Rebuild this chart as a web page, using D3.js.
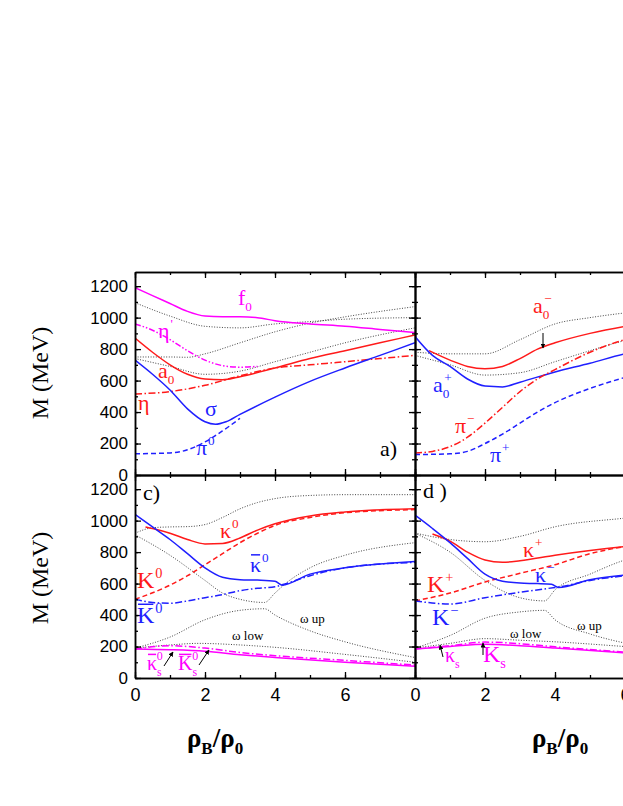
<!DOCTYPE html>
<html><head><meta charset="utf-8">
<script src="https://cdn.jsdelivr.net/npm/d3@7"></script>
<style>body{margin:0;background:#fff}svg{font-family:"Liberation Serif",serif}</style>
</head><body><svg id="svg" width="623" height="806"></svg>
<script>
'use strict';

// panel a
var f0 = [[0,1190],[0.5,1140],[1,1090],[1.5,1040],[2,1010],[2.5,1005],[3,1005],[3.5,1000],[4,980],[5,960],[6,945],[7,925],[8,905]];
var etaP = [[0,960],[0.5,920],[1,860],[1.5,790],[2,730],[2.5,695],[3,685],[3.5,690]];
var a0 = [[0,870],[0.5,780],[1,700],[1.5,640],[2,610],[2.5,605],[3,625],[4,680],[5,740],[6,790],[7,840],[8,890]];
var eta = [[0,515],[1,530],[2,570],[3,630],[4,680],[5,700],[6,720],[7,740],[8,760]];
var sigma = [[0,730],[0.5,640],[1,540],[1.5,420],[2,338],[2.3,322],[2.6,338],[3,385],[4,495],[5,595],[6,680],[7,760],[8,840]];
var pi0 = [[0,135],[1,140],[1.5,160],[2,210],[2.5,280],[3,360]];
var aDot1 = [[0,1095],[1,1010],[2,945],[3,935],[4,960],[5,975],[6,990],[8,1000]];
var aDot2 = [[0,750],[1,750],[1.5,748],[2,770],[3,840],[4,910],[5,965],[6,1005],[8,1070]];
var aDot3 = [[0,740],[1,690],[2,640],[3,660],[4,720],[5,780],[6,840],[8,935]];

// panel b
var a0m = [[0.4,790],[1,730],[1.5,690],[2,675],[2.5,690],[3,740],[3.5,800],[4,840],[5,900],[6,945],[8,1000]];
var a0p = [[0,880],[0.5,760],[1,690],[1.5,610],[2,565],[2.5,560],[3,590],[4,655],[5,710],[6,770],[8,830]];
var piM = [[0,140],[0.5,150],[1,180],[1.5,240],[2,330],[2.5,430],[3,530],[3.5,610],[4,670],[5,780],[6,860],[8,920]];
var piP = [[0,130],[1,135],[1.5,150],[2,200],[2.5,260],[3,330],[3.5,400],[4,460],[5,550],[6,620],[8,720]];
var bDot1 = [[0,780],[1,770],[2,770],[3,860],[4,960],[5,1000],[6,1030],[8,1070]];
var bDot2 = [[0,760],[1,700],[2,635],[3,650],[4,720],[5,790],[6,855],[8,930]];

// panel c
var kap0 = [[0.3,960],[0.5,950],[1,920],[1.5,880],[2,852],[2.5,855],[3,890],[3.5,940],[4,980],[5,1030],[6,1055],[8,1075]];
var K0 = [[0,500],[1,590],[1.5,650],[2,720],[2.5,790],[3,860],[3.5,920],[4,970],[5,1020],[6,1050],[8,1070]];
var kapB0 = [[0,1040],[0.5,960],[1,880],[1.5,790],[2,700],[2.5,640],[3,625],[3.5,622],[4,615],[4.2,590],[5,660],[6,700],[8,740]];
var KB0 = [[0,500],[0.5,480],[1,475],[1.5,490],[2,510],[2.5,530],[3,555],[3.5,570],[4,580],[4.2,592],[5,650],[6,700],[8,735]];
var kapS0 = [[0,185],[1,180],[2,170],[3,148],[4,130],[6,100],[8,75]];
var KS0 = [[0,185],[1,205],[2,190],[3,162],[4,142],[6,112],[8,82]];
var cDot1 = [[0,920],[0.5,955],[1,960],[1.5,962],[2,975],[2.5,1020],[3,1075],[3.5,1115],[4,1140],[5,1160],[6,1165],[8,1165]];
var cDot2 = [[0,910],[1,780],[2,620],[2.5,540],[3,500],[3.7,480],[4,540],[4.3,600],[5,700],[6,780],[8,860]];
var cDot3 = [[0,190],[1,260],[2,370],[3,430],[3.7,440],[4,400],[5,300],[6,230],[8,130]];
var cDot4 = [[0,190],[1,210],[1.8,220],[3,210],[4,195],[6,150],[8,100]];

// panel d
var kapP = [[0.5,915],[1,870],[1.5,800],[2,750],[2.5,735],[3,745],[4,780],[5,810],[6,835],[8,870]];
var KP = [[0,490],[1,540],[2,610],[3,665],[4,720],[5,790],[6,835],[8,870]];
var kapM = [[0,1035],[0.5,950],[1,860],[1.5,760],[2,660],[2.5,615],[3,603],[3.5,600],[3.9,595],[4.1,575],[5,625],[6,655],[8,690]];
var KM = [[0,490],[1,470],[2,510],[3,545],[4,575],[4.1,578],[5,620],[6,650],[8,685]];
var kapS = [[0,185],[1,200],[2,215],[3,205],[4,190],[6,160],[8,130]];
var KS = [[0,185],[1,205],[2,228],[3,218],[4,198],[6,165],[8,135]];
var dDot1 = [[0,921],[1,880],[2,866],[3,900],[4,961],[6,1016],[8,1060]];
var dDot2 = [[0,920],[1,800],[2,620],[3,510],[3.7,490],[4,560],[5,660],[6,750],[8,820]];
var dDot3 = [[0,190],[1,270],[2,380],[3,420],[3.7,430],[4,370],[5,280],[6,222],[8,170]];
var dDot4 = [[0,190],[1,220],[2,250],[3,240],[4,230],[6,200],[8,170]];

var yTicks = [0, 200, 400, 600, 800, 1000, 1200];
var xTicks = [0, 2, 4, 6, 8];

var BLUE = '#1f1fff', RED = '#ff1a1a', MAG = '#ff00ff', GREY = '#444';
var styles = {
  solid: null, dot: '1,1.6', dash: '5,3', dashdot: '7,2.5,1.5,2.5', dashdotdot: '6,2,1.5,2,1.5,2'
};

var svg = d3.select('#svg');
var W = 280, H = 203;
var panels = [
  {x: 135, y: 272, curves: [
    [aDot1,GREY,'dot'],[aDot2,GREY,'dot'],[aDot3,GREY,'dot'],
    [f0,MAG,'solid'],[etaP,MAG,'dashdotdot'],[a0,RED,'solid'],[eta,RED,'dashdot'],
    [sigma,BLUE,'solid'],[pi0,BLUE,'dash']], xl: false, yl: true},
  {x: 415, y: 272, curves: [
    [bDot1,GREY,'dot'],[bDot2,GREY,'dot'],[a0m,RED,'solid'],[a0p,BLUE,'solid'],
    [piM,RED,'dashdot'],[piP,BLUE,'dash']], xl: false, yl: false},
  {x: 135, y: 475, curves: [
    [cDot1,GREY,'dot'],[cDot2,GREY,'dot'],[cDot3,GREY,'dot'],[cDot4,GREY,'dot'],
    [kap0,RED,'solid'],[K0,RED,'dash'],[kapB0,BLUE,'solid'],[KB0,BLUE,'dashdot'],
    [kapS0,MAG,'solid'],[KS0,MAG,'dashdot']], xl: true, yl: true},
  {x: 415, y: 475, curves: [
    [dDot1,GREY,'dot'],[dDot2,GREY,'dot'],[dDot3,GREY,'dot'],[dDot4,GREY,'dot'],
    [kapP,RED,'solid'],[KP,RED,'dash'],[kapM,BLUE,'solid'],[KM,BLUE,'dashdot'],
    [kapS,MAG,'solid'],[KS,MAG,'dashdot']], xl: true, yl: false}
];

var x = d3.scaleLinear().domain([0, 8]).range([0, W]);
var y = d3.scaleLinear().domain([0, 1290]).range([H, 0]);
var line = d3.line().x(function(d){return x(d[0]);}).y(function(d){return y(d[1]);}).curve(d3.curveMonotoneX);

panels.forEach(function(p, i) {
  var g = svg.append('g').attr('transform', 'translate(' + p.x + ',' + p.y + ')');
  g.append('clipPath').attr('id', 'c' + i).append('rect').attr('width', W).attr('height', H);
  var plot = g.append('g').attr('clip-path', 'url(#c' + i + ')');
  p.curves.forEach(function(c) {
    plot.append('path').attr('d', line(c[0])).attr('fill', 'none')
      .attr('stroke', c[1]).attr('stroke-width', c[2] === 'dot' ? 1 : 1.5)
      .attr('stroke-dasharray', styles[c[2]]);
  });

  // ticks on all sides, inward
  function ax(gen, tr, vals, size, lab) {
    var a = g.append('g').attr('transform', tr).call(gen.tickValues(vals).tickSizeInner(size).tickSizeOuter(0)
      .tickPadding(7).tickFormat(lab ? d3.format('d') : ''));
    a.select('.domain').attr('stroke-width', 1.5);
    a.selectAll('.tick line').attr('stroke-width', 1.3);
    a.selectAll('text').attr('font-size', 17).attr('fill', '#000');
    return a;
  }
  var minorX = d3.range(0, 9), minorY = d3.range(0, 1300, 100);
  ax(d3.axisBottom(x), 'translate(0,' + H + ')', minorX, -3, false);
  var bx = ax(d3.axisBottom(x), 'translate(0,' + H + ')', p.xl ? xTicks.filter(function(v){return p.x === 135 ? v < 8 : true;}) : xTicks, -6, p.xl);
  bx.selectAll('text').attr('font-size', 18).attr('dy', '0.9em');
  ax(d3.axisTop(x), '', minorX, -3, false);
  ax(d3.axisTop(x), '', xTicks, -6, false);
  ax(d3.axisLeft(y), '', minorY, -3, false);
  ax(d3.axisLeft(y), '', yTicks, -6, p.yl);
  ax(d3.axisRight(y), 'translate(' + W + ',0)', minorY, -3, false);
  ax(d3.axisRight(y), 'translate(' + W + ',0)', yTicks, -6, false);
});

// y titles
[373, 578].forEach(function(cy) {
  svg.append('text').attr('transform', 'translate(48,' + cy + ') rotate(-90)')
    .attr('text-anchor', 'middle').attr('font-size', 24).text('M (MeV)');
});
// x titles
[215, 560].forEach(function(cx) {
  var t = svg.append('text').attr('x', cx).attr('y', 747).attr('text-anchor', 'middle')
    .attr('font-size', 27).attr('font-weight', 'bold');
  t.append('tspan').text('ρ');
  t.append('tspan').attr('font-size', 17).attr('dy', 7).text('B');
  t.append('tspan').attr('dy', -7).text('/ρ');
  t.append('tspan').attr('font-size', 17).attr('dy', 7).text('0');
});

// labels: [x, y, text, sub, sup, color, size, overbar]
var labels = [
  [238,305,'f','0','',MAG,22],[158,338,'η','',"'",MAG,22],[158,378,'a','0','',RED,22],[138,410,'η','','',RED,22],
  [205,416,'σ','','',BLUE,22],[196,455,'π','','0',BLUE,22],[380,456,'a)','','', '#000',22],
  [533,313,'a','0','−',RED,22],[433,392,'a','0','+',BLUE,22],[455,433,'π','','−',RED,22],[490,462,'π','','+',BLUE,22],
  [143,500,'c)','','','#000',22],[220,538,'κ','','0',RED,22],[137,588,'K','','0',RED,24],[250,572,'κ','','0',BLUE,22,true],
  [137,623,'K','','0',BLUE,24,true],[232,640,'ω low','','','#000',13],[300,623,'ω up','','','#000',13],
  [147,670,'κ','s','0',MAG,20,true],[178,670,'K','s','0',MAG,20,true],
  [423,498,'d )','','','#000',22],[523,557,'κ','','+',RED,22],[427,592,'K','','+',RED,24],[535,582,'κ','','−',BLUE,22],
  [432,625,'K','','−',BLUE,24],[510,638,'ω low','','','#000',13],[577,630,'ω up','','','#000',13],
  [445,662,'κ','s','',MAG,20],[483,662,'K','s','',MAG,24]
];
labels.forEach(function(l) {
  var t = svg.append('text').attr('x', l[0]).attr('y', l[1]).attr('fill', l[5]).attr('font-size', l[6]);
  var first = t.append('tspan').text(l[2]);
  if (l[3]) t.append('tspan').attr('font-size', l[6] * 0.6).attr('dy', 6).text(l[3]);
  if (l[4]) t.append('tspan').attr('font-size', l[6] * 0.6).attr('dy', l[3] ? -16 : -10).attr('dx', l[3] ? -5 : 1).text(l[4]);
  if (l[7]) {
    var w = first.node().getComputedTextLength();
    svg.append('line').attr('x1', l[0] + 1).attr('x2', l[0] + w - 1)
      .attr('y1', l[1] - l[6] * 0.78).attr('y2', l[1] - l[6] * 0.78)
      .attr('stroke', l[5]).attr('stroke-width', 1.5);
  }
});

// arrows
svg.append('defs').append('marker').attr('id', 'ah').attr('viewBox', '0 0 10 10').attr('refX', 9).attr('refY', 5)
  .attr('markerWidth', 5).attr('markerHeight', 5).attr('orient', 'auto')
  .append('path').attr('d', 'M0,0L10,5L0,10z');
var arrows = [[543,333,543,348],[164,666,173,652],[199,665,209,650],[443,657,440,645],[483,655,483,643]];
arrows.forEach(function(a) {
  svg.append('line').attr('x1', a[0]).attr('y1', a[1]).attr('x2', a[2]).attr('y2', a[3])
    .attr('stroke', '#000').attr('stroke-width', 1).attr('marker-end', 'url(#ah)');
});
</script></body></html>
